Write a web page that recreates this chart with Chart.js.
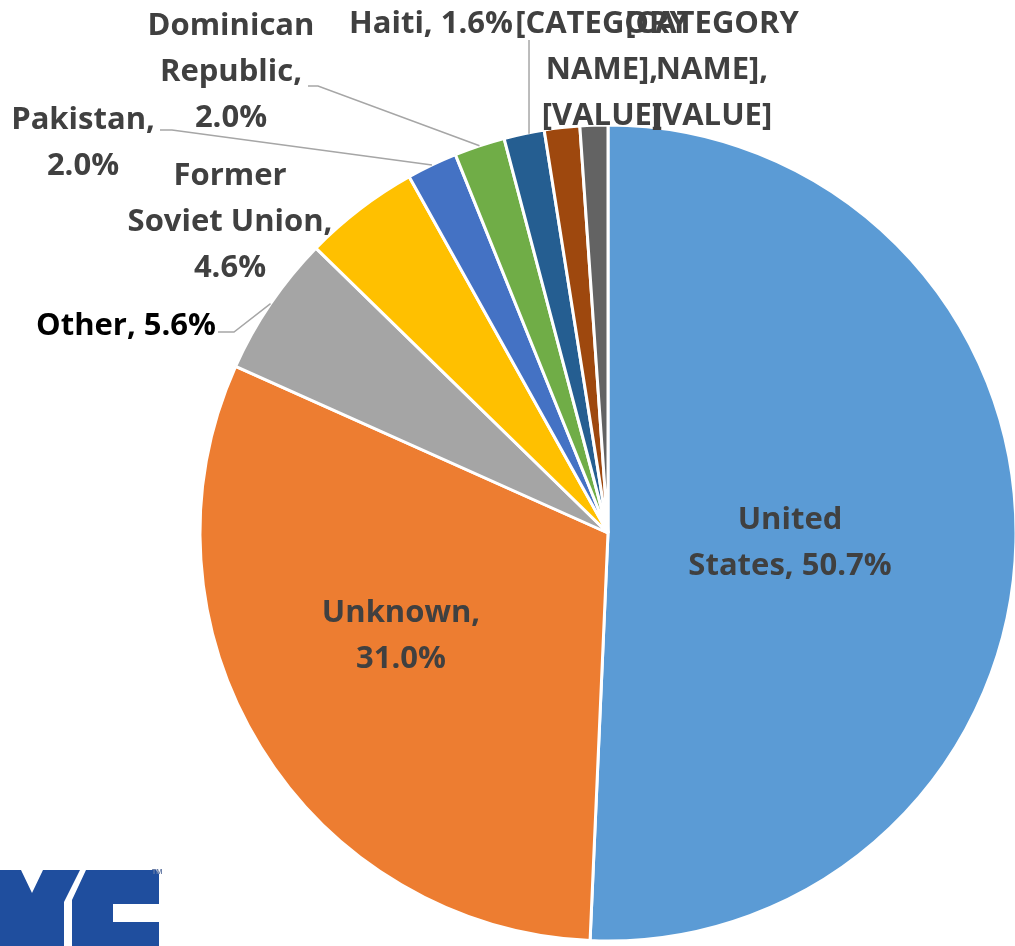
<!DOCTYPE html>
<html>

<head>
    <meta charset="UTF-8">
    <title>Country of birth</title>
    <style>
        html,
        body {
            margin: 0;
            padding: 0;
            background: #fff;
            overflow: hidden;
        }

        #wrap {
            width: 1100px;
            height: 946px;
        }
    </style>
    <script src="https://cdn.jsdelivr.net/npm/chart.js"></script>
</head>

<body>
    <div id="wrap"><canvas id="myChart" width="1100" height="946"></canvas></div>
    <script>
        // data
        const categories = ['United States', 'Unknown', 'Other', 'Former Soviet Union', 'Pakistan',
            'Dominican Republic', 'Haiti', '[CATEGORY NAME]', '[CATEGORY NAME]'];
        const shares = [50.7, 31.0, 5.6, 4.6, 2.0, 2.0, 1.6, 1.4, 1.1];
        const showValue = [true, true, true, true, true, true, true, false, false];
        const sliceColors = ['#5B9BD5', '#ED7D31', '#A5A5A5', '#FFC000', '#4472C4',
            '#70AD47', '#255E91', '#9E480E', '#636363'];

        // how each label is broken into lines (words per line) and where it sits
        const labelLayout = [
            { words: [1, 2], x: 790, y: 529 },
            { words: [1, 1], x: 401, y: 622 },
            { words: [3], x: 126, y: 335, color: '#000000' },
            { words: [1, 2, 1], x: 230, y: 185 },
            { words: [1, 1], x: 83, y: 129 },
            { words: [1, 1, 1], x: 231, y: 35 },
            { words: [2], x: 431, y: 33 },
            { words: [1, 1, 1], x: 602, y: 33 },
            { words: [1, 1, 1], x: 712, y: 33 }
        ];

        function labelText(i) {
            const v = showValue[i] ? shares[i].toFixed(1) + '%' : '[VALUE]';
            const words = (categories[i] + ', ' + v).split(' ');
            const lines = [];
            let k = 0;
            labelLayout[i].words.forEach(function (n) {
                lines.push(words.slice(k, k + n).join(' '));
                k += n;
            });
            return lines;
        }

        const labelPlugin = {
            id: 'pieLabels',
            afterDatasetsDraw(chart) {
                const ctx = chart.ctx;
                const arcs = chart.getDatasetMeta(0).data;

                function edgePoint(i) {
                    const a = arcs[i];
                    const mid = (a.startAngle + a.endAngle) / 2;
                    return { x: a.x + Math.cos(mid) * a.outerRadius, y: a.y + Math.sin(mid) * a.outerRadius };
                }

                // leader lines
                ctx.save();
                ctx.strokeStyle = '#A6A6A6';
                ctx.lineWidth = 1.5;
                const leaders = [
                    { i: 2, pts: [[218, 332], [234, 332]] },
                    { i: 4, pts: [[160, 130], [172, 130]] },
                    { i: 5, pts: [[308, 86], [318, 86]] }
                ];
                leaders.forEach(function (l) {
                    const p = edgePoint(l.i);
                    ctx.beginPath();
                    ctx.moveTo(l.pts[0][0], l.pts[0][1]);
                    ctx.lineTo(l.pts[1][0], l.pts[1][1]);
                    ctx.lineTo(p.x, p.y);
                    ctx.stroke();
                });
                const h = edgePoint(6);
                ctx.beginPath();
                ctx.moveTo(h.x + 5, 40);
                ctx.lineTo(h.x + 5, h.y);
                ctx.stroke();
                ctx.restore();

                // label text
                ctx.save();
                ctx.font = 'bold 31px "Open Sans"';
                ctx.textAlign = 'center';
                ctx.textBaseline = 'alphabetic';
                labelLayout.forEach(function (lay, i) {
                    ctx.fillStyle = lay.color || '#404040';
                    labelText(i).forEach(function (line, j) {
                        ctx.fillText(line, lay.x, lay.y + j * 46);
                    });
                });
                ctx.restore();
            },
            afterDraw(chart) {
                // NYC logo, cut off at the left edge
                const ctx = chart.ctx;
                ctx.save();
                ctx.fillStyle = '#1F4E9E';
                ctx.beginPath();
                ctx.moveTo(0, 870);
                ctx.lineTo(21, 870);
                ctx.lineTo(32, 893);
                ctx.lineTo(43, 870);
                ctx.lineTo(80, 870);
                ctx.lineTo(64, 902);
                ctx.lineTo(64, 946);
                ctx.lineTo(0, 946);
                ctx.closePath();
                ctx.fill();
                ctx.beginPath();
                ctx.moveTo(86, 870);
                ctx.lineTo(156, 870);
                ctx.lineTo(159, 874);
                ctx.lineTo(159, 904);
                ctx.lineTo(113, 904);
                ctx.lineTo(113, 922);
                ctx.lineTo(159, 922);
                ctx.lineTo(159, 946);
                ctx.lineTo(72, 946);
                ctx.lineTo(72, 900);
                ctx.closePath();
                ctx.fill();
                ctx.font = 'bold 7px "Open Sans"';
                ctx.fillStyle = '#6B7FA8';
                ctx.fillText('TM', 152, 874);
                ctx.restore();
            }
        };

        const myChart = new Chart(document.getElementById('myChart'), {
            type: 'pie',
            data: {
                labels: categories,
                datasets: [{
                    data: shares,
                    backgroundColor: sliceColors,
                    borderColor: '#ffffff',
                    borderWidth: 3
                }]
            },
            options: {
                responsive: false,
                animation: false,
                radius: 408,
                layout: {
                    padding: { left: 200, right: 84, top: 125, bottom: 5 }
                },
                plugins: {
                    legend: { display: false },
                    tooltip: { enabled: false }
                }
            },
            plugins: [labelPlugin]
        });
    </script>
</body>

</html>
